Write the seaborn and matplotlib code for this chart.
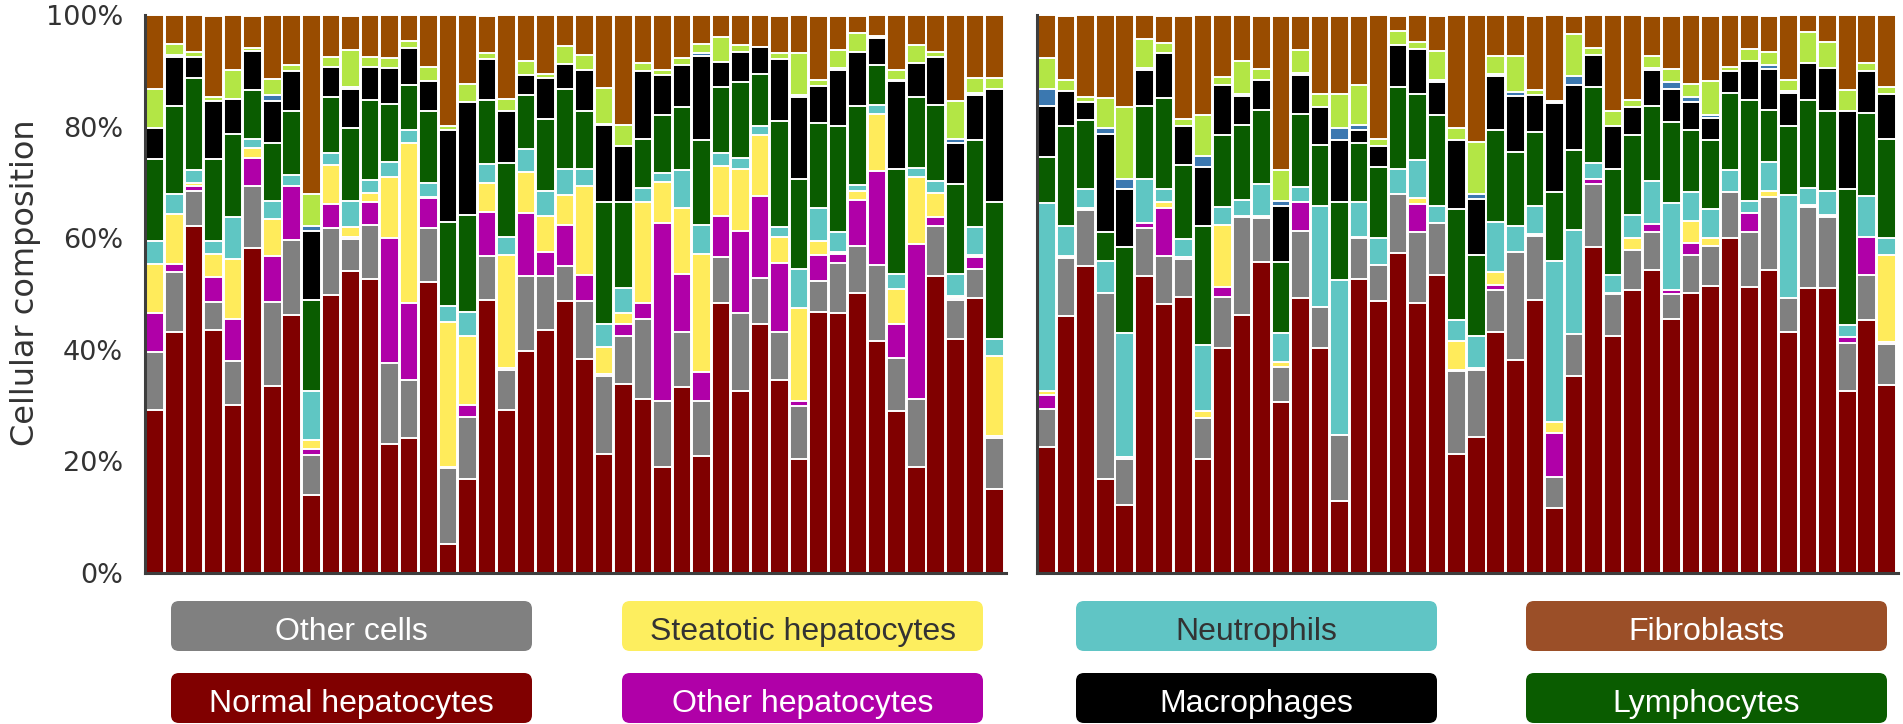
import numpy as np
import matplotlib
matplotlib.use("Agg")
import matplotlib.pyplot as plt
from matplotlib.patches import FancyBboxPatch
import seaborn as sns

sns.set_style("white")
plt.rcParams["font.family"] = ["DejaVu Sans"]

# ---------------------------------------------------------------
# Cellular composition (%) per sample, cohort A (left panel)
# ---------------------------------------------------------------
a_normal_hep = [29.3, 43.3, 62.3, 43.6, 30.1, 58.3, 33.6, 46.3, 14.0, 49.9, 54.1, 52.7, 23.1, 24.3, 52.2,
                5.2, 16.9, 49.0, 29.3, 39.9, 43.6, 48.7, 38.4, 21.3, 33.9, 31.3, 19.0, 33.4, 21.0, 48.4,
                32.7, 44.6, 34.6, 20.5, 46.9, 46.7, 50.3, 41.7, 29.1, 19.1, 53.2, 42.0, 49.4, 15.0]
a_other_cells = [10.3, 10.7, 6.2, 5.0, 7.9, 11.1, 15.0, 13.5, 7.2, 12.0, 5.8, 9.8, 14.6, 10.3, 9.6,
                 13.6, 11.1, 7.8, 7.2, 13.3, 9.6, 6.3, 10.3, 14.1, 8.7, 14.3, 11.9, 9.8, 9.9, 8.2,
                 14.0, 8.3, 8.6, 9.4, 5.4, 8.9, 8.3, 13.6, 9.5, 12.2, 9.1, 7.0, 5.2, 9.3]
a_other_hep = [7.1, 1.4, 1.0, 4.5, 7.6, 5.0, 8.2, 9.7, 1.0, 4.2, 0.4, 4.0, 22.4, 13.9, 5.4,
               0.3, 2.1, 8.0, 0.3, 11.3, 4.3, 7.5, 4.8, 0.3, 2.1, 2.9, 31.9, 10.5, 5.2, 7.5,
               14.7, 14.7, 12.4, 0.9, 4.7, 1.6, 8.3, 16.8, 6.0, 27.7, 1.6, 0.3, 2.0, 0.3]
a_steatotic_hep = [8.8, 9.0, 0.4, 4.1, 10.7, 1.8, 6.7, 0.0, 1.7, 7.1, 1.8, 1.6, 10.9, 28.7, 0.3,
                   25.9, 12.5, 5.1, 20.2, 7.4, 6.6, 5.3, 16.0, 4.9, 2.0, 18.0, 7.3, 11.8, 21.1, 8.9,
                   11.0, 11.0, 4.6, 16.7, 2.5, 0.4, 1.7, 10.3, 6.4, 12.1, 4.2, 0.4, 0.4, 14.3]
a_neutrophils = [4.1, 3.6, 2.3, 2.4, 7.6, 1.6, 3.3, 1.9, 8.8, 2.2, 4.7, 2.4, 2.8, 2.2, 2.4,
                 2.9, 4.3, 3.5, 3.2, 4.1, 4.4, 4.6, 2.9, 4.1, 4.5, 2.6, 1.7, 6.7, 5.2, 2.4,
                 2.0, 1.6, 1.8, 7.0, 6.0, 3.6, 1.0, 1.5, 2.7, 1.5, 2.2, 4.0, 5.0, 3.1]
a_lymphocytes = [14.6, 15.7, 16.6, 14.6, 14.8, 8.9, 10.3, 11.5, 16.2, 10.0, 13.1, 14.4, 10.4, 8.1, 13.0,
                 15.0, 17.4, 11.5, 13.4, 9.8, 13.0, 14.5, 10.5, 21.8, 15.4, 8.7, 10.4, 11.3, 15.2, 11.8,
                 13.6, 9.3, 19.1, 16.2, 15.2, 18.9, 14.1, 7.3, 18.7, 12.7, 13.6, 16.1, 15.6, 24.6]
a_macrophages = [5.7, 8.9, 3.8, 10.4, 6.4, 6.9, 7.6, 7.1, 12.4, 5.3, 7.0, 5.8, 6.4, 6.7, 5.4,
                 16.6, 20.2, 7.3, 9.3, 3.6, 7.2, 4.4, 7.4, 13.8, 10.0, 12.2, 7.1, 7.7, 15.2, 4.5,
                 5.4, 4.9, 11.1, 14.6, 6.6, 10.1, 9.8, 4.8, 15.8, 6.2, 8.7, 7.3, 8.1, 20.2]
a_blue_minor = [0.0, 0.3, 0.0, 0.0, 0.0, 0.0, 1.0, 0.0, 0.9, 0.0, 0.3, 0.0, 0.0, 0.0, 0.0,
                0.0, 0.0, 0.0, 0.0, 0.0, 0.0, 0.0, 0.0, 0.2, 0.0, 0.0, 0.0, 0.0, 0.4, 0.0,
                0.0, 0.0, 0.0, 0.4, 0.0, 0.3, 0.0, 0.0, 0.3, 0.0, 0.0, 0.8, 0.4, 0.0]
a_lime_minor = [7.0, 2.0, 0.9, 0.7, 5.1, 0.6, 2.9, 1.1, 5.7, 1.9, 6.7, 1.9, 1.8, 1.3, 2.5,
                0.6, 3.3, 1.0, 2.2, 2.4, 0.8, 3.2, 2.7, 6.5, 3.8, 1.5, 0.9, 1.2, 1.6, 4.4,
                1.3, 0.0, 1.0, 7.5, 1.1, 3.3, 3.3, 0.3, 1.8, 3.2, 0.9, 6.7, 2.7, 2.0]
a_fibroblasts = [13.1, 5.2, 6.5, 14.6, 9.8, 5.8, 11.4, 8.9, 32.1, 7.4, 6.1, 7.4, 7.6, 4.5, 9.2,
                 19.9, 12.2, 6.8, 14.9, 8.2, 10.5, 5.5, 7.0, 13.0, 19.6, 8.5, 9.8, 7.6, 5.2, 3.9,
                 5.3, 5.6, 6.8, 6.8, 11.6, 6.2, 3.2, 3.7, 9.7, 5.3, 6.5, 15.4, 11.2, 11.2]

# ---------------------------------------------------------------
# Cellular composition (%) per sample, cohort B (right panel)
# ---------------------------------------------------------------
b_normal_hep = [22.6, 46.1, 55.0, 16.9, 12.2, 53.2, 48.3, 49.5, 20.5, 40.4, 46.3, 55.8, 30.7, 49.3, 40.4,
                13.0, 52.7, 48.7, 57.4, 48.5, 53.5, 21.3, 24.4, 43.2, 38.2, 49.0, 11.6, 35.3, 58.5, 42.6,
                50.7, 54.3, 45.6, 50.2, 51.5, 60.0, 51.3, 54.3, 43.2, 51.2, 51.2, 32.7, 45.4, 33.7]
b_other_cells = [6.8, 10.4, 10.1, 33.4, 8.3, 8.6, 8.5, 6.8, 7.3, 9.1, 17.5, 7.9, 6.2, 12.1, 7.3,
                 11.8, 7.3, 6.6, 10.5, 12.7, 9.3, 14.9, 12.1, 7.5, 19.4, 11.5, 5.7, 7.6, 11.3, 7.4,
                 7.3, 6.9, 4.4, 6.8, 7.1, 8.3, 9.9, 13.2, 6.2, 14.4, 12.7, 8.5, 8.1, 7.3]
b_other_hep = [2.5, 0.0, 0.0, 0.0, 0.3, 1.0, 8.7, 0.3, 0.0, 1.8, 0.0, 0.0, 0.0, 5.1, 0.0,
               0.0, 0.0, 0.0, 0.0, 4.9, 0.0, 0.3, 0.0, 1.0, 0.0, 0.0, 7.8, 0.0, 0.9, 0.0,
               0.0, 1.4, 0.7, 2.2, 0.0, 0.0, 3.3, 0.0, 0.0, 0.0, 0.0, 1.2, 6.8, 0.4]
b_steatotic_hep = [0.8, 0.3, 0.4, 0.0, 0.0, 0.0, 1.0, 0.0, 1.3, 11.2, 0.3, 0.3, 0.9, 0.0, 0.0,
                   0.0, 0.3, 0.0, 0.0, 1.2, 0.0, 5.1, 0.3, 2.3, 0.0, 0.3, 1.9, 0.0, 0.0, 0.3,
                   2.0, 0.0, 0.0, 3.9, 1.5, 0.0, 0.0, 1.0, 0.0, 0.4, 0.3, 0.0, 0.0, 15.6]
b_neutrophils = [33.6, 5.5, 3.3, 5.7, 22.2, 7.8, 2.3, 3.4, 11.8, 3.1, 2.8, 5.7, 5.2, 2.8, 18.1,
                 27.7, 6.3, 4.7, 4.6, 6.7, 3.1, 3.8, 5.7, 8.9, 4.7, 5.1, 29.0, 18.6, 2.9, 3.2,
                 4.3, 7.7, 15.6, 5.2, 5.2, 3.9, 2.3, 5.3, 18.4, 3.1, 4.4, 2.0, 7.3, 3.0]
b_lymphocytes = [8.3, 17.9, 12.4, 5.2, 15.5, 13.1, 16.4, 13.1, 21.3, 13.0, 13.5, 13.4, 12.8, 13.1, 11.0,
                 14.1, 10.6, 12.8, 14.6, 11.9, 16.3, 19.9, 14.5, 16.6, 13.3, 13.2, 12.3, 14.3, 13.5, 18.9,
                 14.3, 13.4, 14.6, 11.2, 12.3, 13.9, 18.1, 9.3, 12.3, 15.8, 14.3, 24.4, 14.9, 17.9]
b_macrophages = [9.1, 6.2, 3.2, 17.6, 10.3, 6.5, 8.1, 7.1, 10.7, 8.9, 5.1, 5.3, 10.1, 7.0, 6.8,
                 11.0, 2.3, 3.8, 7.6, 8.1, 5.8, 12.4, 10.1, 9.7, 9.9, 6.6, 16.0, 11.8, 5.9, 7.7,
                 4.9, 6.6, 6.0, 5.0, 4.1, 3.9, 7.0, 7.3, 6.0, 6.5, 7.7, 14.1, 7.5, 8.1]
b_blue_minor = [3.2, 0.0, 0.0, 1.0, 1.8, 0.4, 0.0, 0.0, 1.9, 0.0, 0.4, 0.0, 0.8, 0.3, 0.0,
                2.3, 0.8, 0.0, 0.0, 0.0, 0.4, 0.0, 0.8, 0.3, 0.7, 0.0, 0.0, 1.5, 0.0, 0.0,
                0.0, 0.3, 1.1, 0.9, 0.4, 0.0, 0.0, 0.8, 0.3, 0.0, 0.0, 0.0, 0.0, 0.0]
b_lime_minor = [5.5, 2.0, 0.9, 5.4, 12.9, 5.1, 1.7, 1.3, 7.4, 1.5, 5.9, 2.0, 5.5, 4.1, 2.3,
                6.0, 7.2, 1.2, 2.6, 1.2, 5.3, 2.1, 9.4, 3.3, 6.5, 1.0, 0.4, 7.6, 1.2, 2.8,
                1.4, 2.1, 2.4, 2.3, 6.1, 0.8, 2.1, 2.3, 2.1, 5.6, 4.6, 3.8, 1.5, 1.1]
b_fibroblasts = [7.6, 11.6, 14.7, 14.8, 16.5, 4.3, 5.0, 18.5, 17.8, 11.0, 8.2, 9.6, 27.8, 6.2, 14.1,
                 14.1, 12.5, 22.2, 2.7, 4.8, 6.3, 20.2, 22.7, 7.2, 7.3, 13.3, 15.3, 3.3, 5.8, 17.1,
                 15.1, 7.3, 9.6, 12.3, 11.8, 9.2, 6.0, 6.5, 11.5, 3.0, 4.8, 13.3, 8.5, 12.9]

# stacking order, bottom to top
layer_colors = ["#800000", "#808080", "#b000a8", "#ffeb5b", "#5fc6c3",
                "#0a5c00", "#000000", "#3b78b0", "#b3e645", "#994c00"]

# legend boxes (row 1 then row 2)
legend_labels = ["Other cells", "Steatotic hepatocytes", "Neutrophils", "Fibroblasts",
                 "Normal hepatocytes", "Other hepatocytes", "Macrophages", "Lymphocytes"]
legend_colors = ["#808080", "#fdee5f", "#60c5c5", "#9b4f28",
                 "#800000", "#b000a8", "#000000", "#0a5c00"]
legend_text_colors = ["white", "#333333", "#333333", "white",
                      "white", "white", "white", "white"]

ytick_values = [0, 20, 40, 60, 80, 100]
ytick_labels = ["0%", "20%", "40%", "60%", "80%", "100%"]

W, H = 1903, 724
fig = plt.figure(figsize=(W / 100, H / 100), dpi=100)

ax_a = fig.add_axes([145 / W, 1 - 573 / H, 861 / W, 557.5 / H])
ax_b = fig.add_axes([1036.5 / W, 1 - 573 / H, 861.5 / W, 557.5 / H])


def draw_panel(ax, layers):
    values = np.array(layers, dtype=float)
    tops = np.cumsum(values, axis=0)
    samples = np.arange(values.shape[1])
    # draw cumulative totals from the top layer down so lower layers sit in front
    for k in range(len(layers) - 1, -1, -1):
        sns.barplot(x=samples, y=tops[k], color=layer_colors[k], saturation=1,
                    width=0.95, edgecolor="white", linewidth=1.4,
                    errorbar=None, ax=ax)
    ax.set_xlim(-0.52, 43.6)
    ax.set_ylim(0, 100)
    ax.set_xticks([])
    ax.set_xlabel("")
    ax.set_ylabel("")
    for side in ("top", "right"):
        ax.spines[side].set_visible(False)
    for side in ("left", "bottom"):
        ax.spines[side].set_color("#3d3d3d")
        ax.spines[side].set_linewidth(2.2)


draw_panel(ax_a, [a_normal_hep, a_other_cells, a_other_hep, a_steatotic_hep, a_neutrophils,
                  a_lymphocytes, a_macrophages, a_blue_minor, a_lime_minor, a_fibroblasts])
draw_panel(ax_b, [b_normal_hep, b_other_cells, b_other_hep, b_steatotic_hep, b_neutrophils,
                  b_lymphocytes, b_macrophages, b_blue_minor, b_lime_minor, b_fibroblasts])

ax_a.set_yticks(ytick_values)
ax_a.set_yticklabels(ytick_labels)
ax_a.tick_params(axis="y", length=0, pad=16, labelsize=19.5, labelcolor="#333333")
ax_a.set_ylabel("Cellular composition", fontsize=23, color="#333333",
                va="center", ha="center")
ax_a.yaxis.set_label_coords(-0.139, 0.52)

ax_b.set_yticks([])

# legend drawn as rounded colour boxes in pixel coordinates
lax = fig.add_axes([0, 0, 1, 1], zorder=-1)
lax.set_xlim(0, W)
lax.set_ylim(H, 0)
lax.axis("off")
box_lefts = [171, 622, 1076, 1526]
box_tops = [601, 673]
box_w, box_h = 361, 50
for i, (label, fc, tc) in enumerate(zip(legend_labels, legend_colors, legend_text_colors)):
    row, col = divmod(i, 4)
    x0, y0 = box_lefts[col], box_tops[row]
    lax.add_patch(FancyBboxPatch((x0, y0), box_w, box_h,
                                 boxstyle="round,pad=0,rounding_size=8",
                                 facecolor=fc, edgecolor="none"))
    lax.text(x0 + box_w / 2, y0 + 39, label, ha="center", va="baseline",
             fontsize=23, color=tc, family=["Liberation Sans", "DejaVu Sans"])

fig.savefig("out.png", dpi=100)
